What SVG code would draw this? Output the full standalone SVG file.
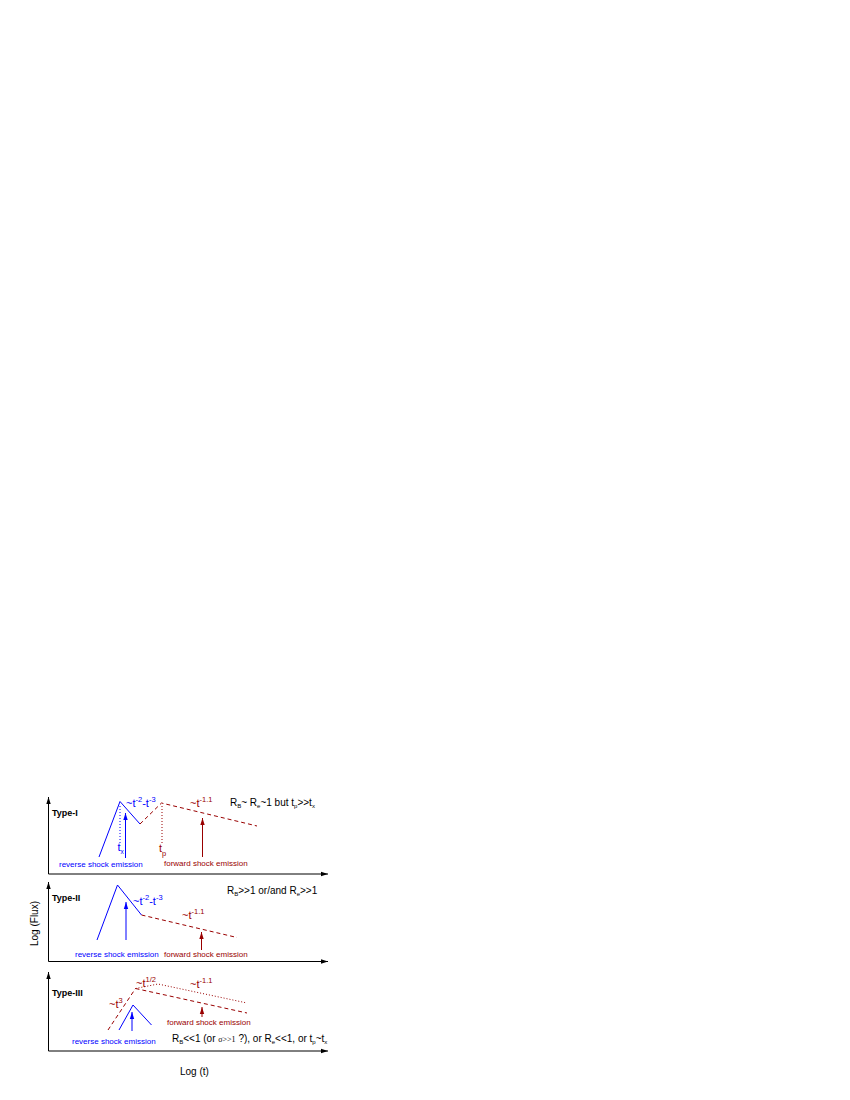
<svg xmlns="http://www.w3.org/2000/svg" width="850" height="1100" viewBox="0 0 850 1100">
<defs>
<style>
text{font-family:"Liberation Sans",Arial,sans-serif;}
.ax{stroke:#000;stroke-width:1;fill:none}
.bl{stroke:#0000ff;stroke-width:1;fill:none}
.rd{stroke:#990000;stroke-width:1;fill:none}
.dash{stroke-dasharray:4 3}
.dot{stroke-dasharray:1 2}
.type{font-weight:bold;font-size:9px;fill:#000}
.bt{fill:#0000ff}
.rt{fill:#990000}
.small{font-size:8px}
.lbl{font-size:10px}
.cl{font-size:11px}
</style>
<marker id="ak" markerWidth="8" markerHeight="6" refX="7" refY="3" orient="auto" markerUnits="userSpaceOnUse"><path d="M0,0.8 L7,3 L0,5.2 Z" fill="#000"/></marker>
<marker id="ab" markerWidth="8" markerHeight="6" refX="7" refY="3" orient="auto" markerUnits="userSpaceOnUse"><path d="M0,0.8 L7,3 L0,5.2 Z" fill="#0000ff"/></marker>
<marker id="ar" markerWidth="8" markerHeight="6" refX="7" refY="3" orient="auto" markerUnits="userSpaceOnUse"><path d="M0,0.8 L7,3 L0,5.2 Z" fill="#990000"/></marker>
</defs>
<rect width="850" height="1100" fill="#fff"/>

<g id="axes">
<line class="ax" x1="48.5" y1="874" x2="48.5" y2="797" marker-end="url(#ak)"/>
<line class="ax" x1="48.5" y1="874" x2="328" y2="874" marker-end="url(#ak)"/>
<line class="ax" x1="48.5" y1="961.5" x2="48.5" y2="882" marker-end="url(#ak)"/>
<line class="ax" x1="48.5" y1="961.5" x2="328" y2="961.5" marker-end="url(#ak)"/>
<line class="ax" x1="48.5" y1="1051" x2="48.5" y2="972" marker-end="url(#ak)"/>
<line class="ax" x1="48.5" y1="1051" x2="328" y2="1051" marker-end="url(#ak)"/>
</g>

<g id="type-I">
<text class="type" x="52" y="816">Type-I</text>
<polyline class="bl" points="99,857 120,801.5 140,824"/>
<polyline class="rd dash" points="140,824 161.5,803 257,826"/>
<line class="bl dot" x1="120" y1="806" x2="120" y2="844"/>
<line class="bl" x1="125.5" y1="858" x2="125.5" y2="813" marker-end="url(#ab)"/>
<line class="rd dot" x1="162" y1="806" x2="162" y2="845"/>
<line class="rd" x1="202.5" y1="857" x2="202.5" y2="818" marker-end="url(#ar)"/>
<text class="bt cl" x="126" y="807">~t<tspan dy="-5" font-size="7.5">-2</tspan><tspan dy="5">-t</tspan><tspan dy="-5" font-size="7.5">-3</tspan></text>
<text class="bt cl" x="117.5" y="851">t<tspan dy="3" font-size="6.5">x</tspan></text>
<text class="rt cl" x="159" y="852">t<tspan dy="4" font-size="7.5">p</tspan></text>
<text class="rt cl" x="190" y="807">~t<tspan dy="-5" font-size="7.5">-1.1</tspan></text>
<text class="lbl" x="230" y="806" fill="#000">R<tspan dy="2" font-size="6">B</tspan><tspan dy="-2">~ R</tspan><tspan dy="2" font-size="6">e</tspan><tspan dy="-2">~1 but t</tspan><tspan dy="2" font-size="6">p</tspan><tspan dy="-2">&gt;&gt;t</tspan><tspan dy="2" font-size="6">x</tspan></text>
<text class="bt small" x="59" y="867">reverse shock emission</text>
<text class="rt small" x="164" y="866">forward shock emission</text>
</g>

<g id="type-II">
<text class="type" x="52" y="901">Type-II</text>
<polyline class="bl" points="97,940 117.5,885 141.5,915"/>
<polyline class="rd dash" points="141.5,915 237,937.5"/>
<line class="bl" x1="126" y1="940" x2="126" y2="902" marker-end="url(#ab)"/>
<line class="rd" x1="201.5" y1="950" x2="201.5" y2="932" marker-end="url(#ar)"/>
<text class="bt cl" x="133" y="905">~t<tspan dy="-5" font-size="7.5">-2</tspan><tspan dy="5">-t</tspan><tspan dy="-5" font-size="7.5">-3</tspan></text>
<text class="rt cl" x="182" y="919">~t<tspan dy="-5" font-size="7.5">-1.1</tspan></text>
<text class="lbl" x="227" y="894" fill="#000">R<tspan dy="2" font-size="6">B</tspan><tspan dy="-2">&gt;&gt;1 or/and R</tspan><tspan dy="2" font-size="6">e</tspan><tspan dy="-2">&gt;&gt;1</tspan></text>
<text class="bt small" x="75" y="957">reverse shock emission</text>
<text class="rt small" x="164" y="957">forward shock emission</text>
</g>

<g id="type-III">
<text class="type" x="52" y="996">Type-III</text>
<polyline class="rd dash" points="108,1030 135.5,988.5"/>
<polyline class="rd dash" points="135.5,988.5 247,1013"/>
<polyline class="rd dot" points="135.5,988.5 158,984 247,1003"/>
<polyline class="bl" points="119,1030 133,1005 151.5,1025"/>
<line class="bl" x1="132" y1="1031" x2="132" y2="1012" marker-end="url(#ab)"/>
<line class="rd" x1="202" y1="1017" x2="202" y2="1007" marker-end="url(#ar)"/>
<text class="rt cl" x="109" y="1008">~t<tspan dy="-5" font-size="7.5">3</tspan></text>
<text class="rt cl" x="136" y="987">~t<tspan dy="-5" font-size="7.5">1/2</tspan></text>
<text class="rt cl" x="190" y="988">~t<tspan dy="-5" font-size="7.5">-1.1</tspan></text>
<text class="rt small" x="167" y="1025">forward shock emission</text>
<text class="bt small" x="72" y="1044">reverse shock emission</text>
<text class="lbl" x="172" y="1042" fill="#000">R<tspan dy="2" font-size="6">B</tspan><tspan dy="-2">&lt;&lt;1 (or </tspan><tspan font-family="'Liberation Serif',serif" font-size="8">σ&gt;&gt;1</tspan> ?), or R<tspan dy="2" font-size="6">e</tspan><tspan dy="-2">&lt;&lt;1, or t</tspan><tspan dy="2" font-size="6">p</tspan><tspan dy="-2">~t</tspan><tspan dy="2" font-size="6">x</tspan></text>
</g>

<g id="axis-labels">
<text class="lbl" x="0" y="0" transform="translate(38,946) rotate(-90)" fill="#000">Log (Flux)</text>
<text class="lbl" x="180" y="1075" fill="#000">Log (t)</text>
</g>
</svg>
